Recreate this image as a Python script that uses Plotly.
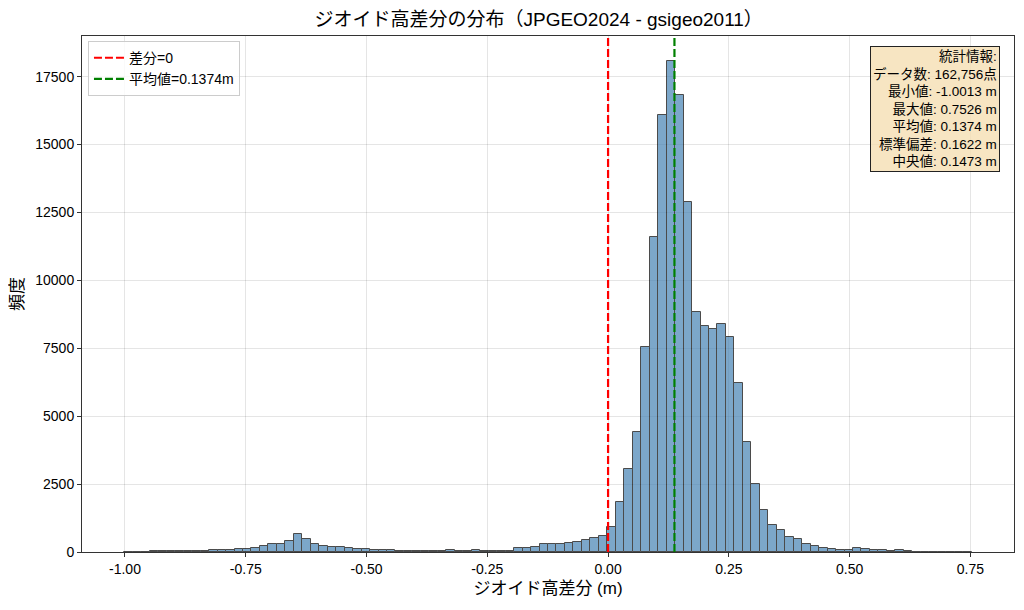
import numpy as np
import plotly.graph_objects as go

# Summary statistics shown in the box
data_min = -1.0013
data_max = 0.7526
mean_val = 0.1374
stats_labels = ['データ数', '最小値', '最大値', '平均値', '標準偏差', '中央値']
stats_values = ['162,756点', '-1.0013 m', '0.7526 m', '0.1374 m', '0.1622 m', '0.1473 m']

# Histogram counts (100 equal bins between data_min and data_max)
counts = [
    3, 8, 15, 20, 30, 30, 35, 40, 45, 50, 60, 70, 80,
    100, 125, 140, 220, 300, 300, 400, 660, 480, 300, 210, 175, 185, 160, 125, 100,
    87, 62, 62, 50, 50, 50, 25, 25, 25, 74, 50, 50, 74, 50, 50, 50, 50,
    136, 136, 198, 285, 297, 285, 322, 384, 446, 520, 582,
    937, 1848, 3064, 4431, 7533, 11597, 16078, 18091, 16825, 12875,
    8849, 8318, 8216, 8381, 7913, 6229, 4051, 2494,
    1562, 1009, 824, 566, 492, 308, 209, 148, 111, 86, 62, 135, 111, 74,
    62, 50, 62, 25, 8, 5, 3, 2, 1, 1, 1,
]

x_ticks = [-1.0, -0.75, -0.5, -0.25, 0.0, 0.25, 0.5, 0.75]
y_ticks = [0, 2500, 5000, 7500, 10000, 12500, 15000, 17500]

font_main = 'Liberation Sans, Arial, Noto Sans CJK JP, sans-serif'

edges = np.linspace(data_min, data_max, len(counts) + 1)
centers = (edges[:-1] + edges[1:]) / 2
bin_w = edges[1] - edges[0]

# matplotlib-like auto margins
span = data_max - data_min
x_range = [data_min - 0.05 * span, data_max + 0.05 * span]
y_top = max(counts) * 1.05

fig = go.Figure()

fig.add_trace(go.Bar(
    x=centers,
    y=counts,
    width=bin_w,
    marker=dict(color='steelblue', line=dict(color='black', width=1)),
    opacity=0.7,
    showlegend=False,
    hoverinfo='x+y',
))

fig.add_trace(go.Scatter(
    x=[0, 0], y=[0, y_top], mode='lines',
    line=dict(color='red', width=2.2, dash='8px,3px'),
    name='差分=0',
))
fig.add_trace(go.Scatter(
    x=[mean_val, mean_val], y=[0, y_top], mode='lines',
    line=dict(color='green', width=2.2, dash='8px,3px'),
    name=f'平均値={mean_val}m',
))

stats_text = '統計情報:<br>' + '<br>'.join(f'{k}: {v}' for k, v in zip(stats_labels, stats_values))
fig.add_annotation(
    text=stats_text,
    xref='paper', yref='paper',
    x=0.985, y=0.981, xanchor='right', yanchor='top',
    align='right', showarrow=False,
    font=dict(family=font_main, size=13.5, color='black'),
    bgcolor='rgba(245,222,179,0.8)',
    bordercolor='#222222', borderwidth=1, borderpad=2,
)

# page body has an 8px margin, so the figure is sized to fit the window
fig.update_layout(
    width=1008, height=594,
    margin=dict(l=74, r=2, t=28, b=50),
    paper_bgcolor='white', plot_bgcolor='white',
    font=dict(family=font_main, size=14, color='black'),
    title=dict(
        text='ジオイド高差分の分布（JPGEO2024 - gsigeo2011）',
        x=0.49, xref='paper', xanchor='center',
        y=0.9815, yanchor='middle',
        font=dict(size=19, color='black'),
    ),
    legend=dict(
        x=0.0064, y=0.99, xanchor='left', yanchor='top',
        bgcolor='rgba(255,255,255,0.8)',
        bordercolor='#cccccc', borderwidth=1,
        font=dict(size=14),
    ),
    bargap=0,
)

fig.update_xaxes(
    range=x_range,
    tickvals=x_ticks, ticktext=[f'{v:.2f}' for v in x_ticks],
    showgrid=True, gridcolor='rgba(0,0,0,0.1)', gridwidth=1,
    showline=True, linecolor='#333333', linewidth=1, mirror=True,
    ticks='outside', ticklen=4, tickcolor='#333333',
    zeroline=False,
    title=dict(text='ジオイド高差分 (m)', font=dict(size=17), standoff=6),
    tickfont=dict(size=14),
)
fig.update_yaxes(
    range=[0, y_top],
    tickvals=y_ticks, ticktext=[str(v) for v in y_ticks],
    showgrid=True, gridcolor='rgba(0,0,0,0.1)', gridwidth=1,
    showline=True, linecolor='#333333', linewidth=1, mirror=True,
    ticks='outside', ticklen=4, tickcolor='#333333',
    zeroline=False,
    title=dict(text='頻度', font=dict(size=17), standoff=8),
    tickfont=dict(size=14),
)

fig.write_html('out.html')
